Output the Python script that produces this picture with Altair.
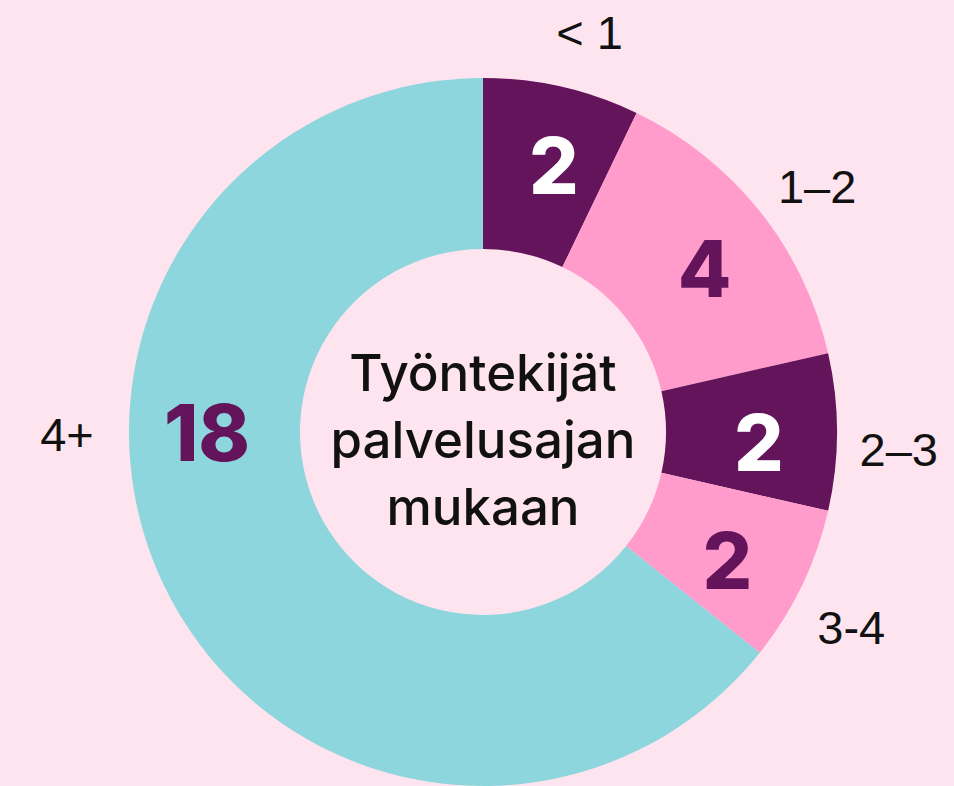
import math
import altair as alt
import pandas as pd

categories = ["< 1", "1–2", "2–3", "3-4", "4+"]
values = [2, 4, 2, 2, 18]
slice_colors = ["#63145a", "#ff9ccb", "#63145a", "#ff9ccb", "#8dd6dd"]
number_colors = ["#ffffff", "#63145a", "#ffffff", "#63145a", "#63145a"]
center_lines = ["Työntekijät", "palvelusajan", "mukaan"]

df = pd.DataFrame({"category": categories, "value": values,
                   "order": list(range(len(categories)))})
total = sum(values)
CX, CY = 483, 432
shift = 2.0 / 360 * total  # small clockwise nudge of label angles

theta_scale = alt.Scale(domain=[0, total], range=[0, 2 * math.pi])

base = alt.Chart(df)

arcs = base.mark_arc(outerRadius=354, innerRadius=183).encode(
    theta=alt.Theta("value:Q", stack=True, scale=theta_scale),
    order=alt.Order("order:Q"),
    color=alt.Color("category:N", scale=alt.Scale(domain=categories, range=slice_colors), legend=None),
    x=alt.value(CX),
    y=alt.value(CY),
)

lab = base.transform_window(
    cum="sum(value)", sort=[alt.SortField("order")], frame=[None, 0]
).transform_calculate(
    mid=f"datum.value * 2 > {total} ? {total} * 0.75 : datum.cum - datum.value / 2 + {shift}"
)

numbers = lab.mark_text(font="Inter", fontSize=78, fontWeight=800, align="center", baseline="middle").encode(
    theta=alt.Theta("mid:Q", stack=False, scale=theta_scale),
    radius=alt.value(276),
    text=alt.Text("value:Q"),
    color=alt.Color("category:N", scale=alt.Scale(domain=categories, range=number_colors), legend=None),
    x=alt.value(CX),
    y=alt.value(CY + 6),
)

outer = lab.mark_text(font="Liberation Sans", fontSize=47, color="#111111", align="center", baseline="middle").encode(
    theta=alt.Theta("mid:Q", stack=False, scale=theta_scale),
    radius=alt.value(416),
    text=alt.Text("category:N"),
    x=alt.value(CX),
    y=alt.value(CY + 5),
)

center = alt.Chart(pd.DataFrame({"t": ["\n".join(center_lines)]})).mark_text(
    font="Inter", fontSize=51, fontWeight=500, color="#111111", lineBreak="\n",
    lineHeight=67, align="center", baseline="middle"
).encode(text="t:N", x=alt.value(CX), y=alt.value(376))

chart = alt.layer(arcs, numbers, outer, center).resolve_scale(color="independent").properties(
    width=954, height=786, autosize=alt.AutoSizeParams(type="none"), padding=0
).configure(background="#fee4ef").configure_view(stroke=None)

chart.save("out.html", embed_options={"renderer": "svg", "actions": False})
